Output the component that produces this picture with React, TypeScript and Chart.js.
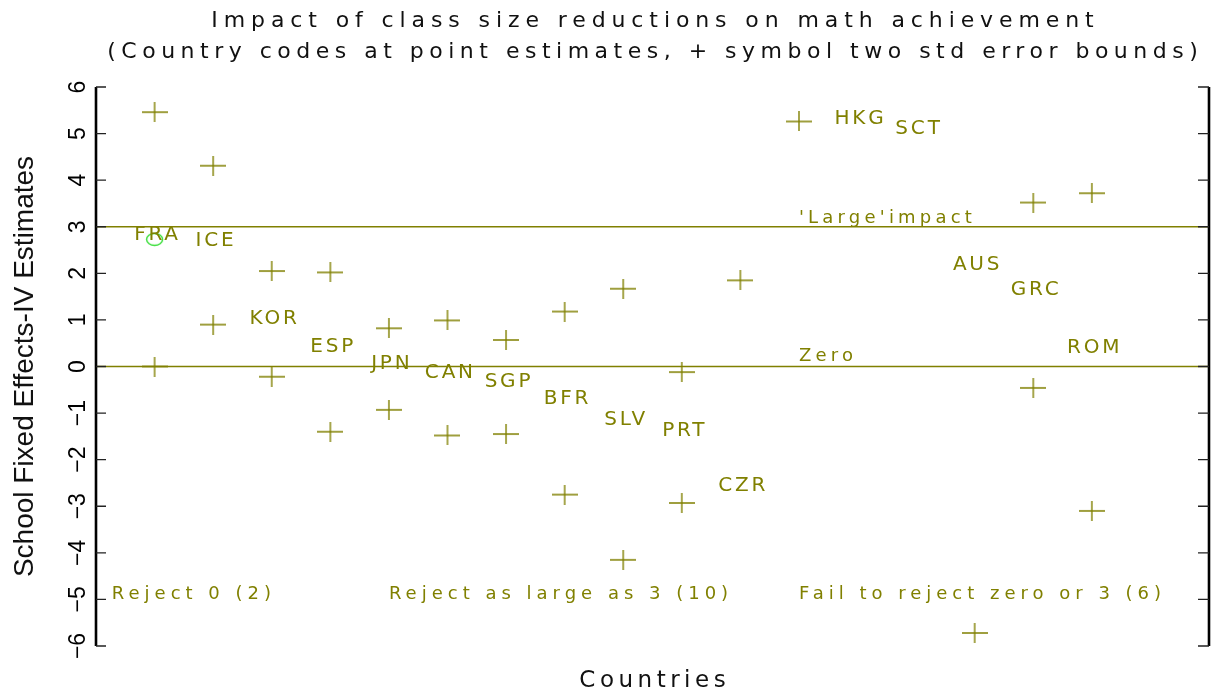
import React, { useEffect, useRef } from "react";
import { Chart, registerables } from "chart.js";

Chart.register(...registerables);

// ---------- data ----------
const countryCodes = ["FRA", "ICE", "KOR", "ESP", "JPN", "CAN", "SGP", "BFR", "SLV", "PRT", "CZR", "HKG", "SCT", "AUS", "GRC", "ROM"];
const countryX = [1, 2, 3, 4, 5, 6, 7, 8, 9, 10, 11, 13, 14, 15, 16, 17];
const pointEstimates = [2.72, 2.58, 0.91, 0.32, -0.06, -0.25, -0.44, -0.8, -1.25, -1.5, -2.68, 5.21, 4.99, 2.08, 1.53, 0.3];

const boundX = [1, 2, 3, 4, 5, 6, 7, 8, 9, 10, 11, 12, 15, 16, 17];
const upperBounds = [5.46, 4.31, 2.05, 2.02, 0.82, 0.99, 0.57, 1.18, 1.67, -0.12, 1.85, 5.26, null, 3.52, 3.72];
const lowerBounds = [0.0, 0.9, -0.22, -1.4, -0.93, -1.48, -1.45, -2.75, -4.15, -2.93, null, null, -5.72, -0.46, -3.1];

const highlightX = [1];
const highlightY = [2.73];

const refLineValues = [3, 0];
const refLineLabels = ["'Large'impact", "Zero"];
const refLabelX = [12, 12];
const refLabelY = [3.09, 0.11];

const groupNotes = ["Reject 0 (2)", "Reject as large as 3 (10)", "Fail to reject zero or 3 (6)"];
const groupNoteX = [0.27, 5.0, 12.0];
const groupNoteY = [-5.0, -5.0, -5.0];

const yTickValues = [-6, -5, -4, -3, -2, -1, 0, 1, 2, 3, 4, 5, 6];
const xMin = 0;
const xMax = 19;
const yMin = -6;
const yMax = 6;

const titleLines = [
  "Impact of class size reductions on math achievement",
  "(Country codes at point estimates, + symbol two std error bounds)",
];
const yTitle = "School Fixed Effects-IV Estimates";
const xTitle = "Countries";

// ---------- styles ----------
const OLIVE = "#808000";
const GREEN = "#33dd33";
const SPACED_FONT = "'DejaVu Sans'";
const PLAIN_FONT = "'Liberation Sans'";

function makeCross(): HTMLCanvasElement {
  const c = document.createElement("canvas");
  c.width = 26;
  c.height = 20;
  const g = c.getContext("2d")!;
  g.strokeStyle = OLIVE;
  g.lineWidth = 1.4;
  g.beginPath();
  g.moveTo(0, 10);
  g.lineTo(26, 10);
  g.moveTo(13, 0);
  g.lineTo(13, 20);
  g.stroke();
  return c;
}

function makeEllipse(): HTMLCanvasElement {
  const c = document.createElement("canvas");
  c.width = 19;
  c.height = 15;
  const g = c.getContext("2d")!;
  g.strokeStyle = GREEN;
  g.lineWidth = 1.4;
  g.beginPath();
  g.ellipse(9.5, 7.5, 8, 6, 0, 0, Math.PI * 2);
  g.stroke();
  return c;
}

function spacedText(
  ctx: CanvasRenderingContext2D,
  text: string,
  x: number,
  y: number,
  font: string,
  spacing: number,
  align: CanvasTextAlign,
  color: string
) {
  ctx.save();
  ctx.font = font;
  (ctx as any).letterSpacing = spacing + "px";
  ctx.fillStyle = color;
  ctx.textBaseline = "alphabetic";
  let dx = 0;
  if (align === "center") dx = spacing / 2;
  ctx.textAlign = align;
  ctx.fillText(text, x + dx, y);
  ctx.restore();
}

const decorPlugin = {
  id: "decor",
  afterDatasetsDraw(chart: any) {
    const ctx: CanvasRenderingContext2D = chart.ctx;
    const xs = chart.scales.x;
    const ys = chart.scales.y;
    const area = chart.chartArea;

    // country codes at point estimates
    countryCodes.forEach((code, i) => {
      const px = xs.getPixelForValue(countryX[i]);
      const py = ys.getPixelForValue(pointEstimates[i]);
      spacedText(ctx, code, px + 1.5, py, `20px ${SPACED_FONT}`, 2.8, "center", OLIVE);
    });

    // reference line labels
    refLineLabels.forEach((t, i) => {
      spacedText(ctx, t, xs.getPixelForValue(refLabelX[i]), ys.getPixelForValue(refLabelY[i]), `18px ${SPACED_FONT}`, 4.2, "left", OLIVE);
    });

    // group notes
    groupNotes.forEach((t, i) => {
      spacedText(ctx, t, xs.getPixelForValue(groupNoteX[i]), ys.getPixelForValue(groupNoteY[i]), `18px ${SPACED_FONT}`, 5.0, "left", OLIVE);
    });

    // axes
    ctx.save();
    ctx.strokeStyle = "#000";
    ctx.lineWidth = 2.6;
    ctx.beginPath();
    ctx.moveTo(area.left, area.top);
    ctx.lineTo(area.left, area.bottom);
    ctx.moveTo(area.right, area.top);
    ctx.lineTo(area.right, area.bottom);
    ctx.stroke();
    ctx.lineWidth = 1.3;
    ctx.strokeStyle = "#222";
    ctx.beginPath();
    yTickValues.forEach((v) => {
      const py = ys.getPixelForValue(v);
      ctx.moveTo(area.left, py);
      ctx.lineTo(area.left + 10, py);
      ctx.moveTo(area.right, py);
      ctx.lineTo(area.right - 11, py);
    });
    ctx.stroke();

    // tick labels (rotated)
    ctx.fillStyle = "#000";
    ctx.font = `23px ${PLAIN_FONT}`;
    ctx.textAlign = "center";
    ctx.textBaseline = "alphabetic";
    yTickValues.forEach((v) => {
      const py = ys.getPixelForValue(v);
      const label = v < 0 ? "\u2212" + Math.abs(v) : String(v);
      ctx.save();
      ctx.translate(area.left - 11, py);
      ctx.rotate(-Math.PI / 2);
      ctx.fillText(label, 0, 0);
      ctx.restore();
    });

    // y title
    ctx.save();
    ctx.font = `28px ${PLAIN_FONT}`;
    ctx.fillStyle = "#111";
    ctx.translate(33, (area.top + area.bottom) / 2);
    ctx.rotate(-Math.PI / 2);
    ctx.textAlign = "center";
    ctx.fillText(yTitle, 0, 0);
    ctx.restore();
    ctx.restore();

    // titles
    const cx = (area.left + area.right) / 2;
    spacedText(ctx, titleLines[0], cx, 27, `22px ${SPACED_FONT}`, 5.9, "center", "#111");
    spacedText(ctx, titleLines[1], cx, 58, `22px ${SPACED_FONT}`, 5.5, "center", "#111");
    spacedText(ctx, xTitle, cx, 687, `23px ${SPACED_FONT}`, 4.5, "center", "#111");
  },
};

export default function App() {
  const ref = useRef<HTMLCanvasElement | null>(null);

  useEffect(() => {
    if (!ref.current) return;
    const cross = makeCross();
    const ellipse = makeEllipse();

    const upperPts = boundX
      .map((x, i) => ({ x, y: upperBounds[i] }))
      .filter((p) => p.y !== null);
    const lowerPts = boundX
      .map((x, i) => ({ x, y: lowerBounds[i] }))
      .filter((p) => p.y !== null);
    const estPts = countryX.map((x, i) => ({ x, y: pointEstimates[i] }));
    const hiPts = highlightX.map((x, i) => ({ x, y: highlightY[i] }));

    const refSets = refLineValues.map((v) => ({
      type: "line" as const,
      data: [
        { x: xMin, y: v },
        { x: xMax, y: v },
      ],
      borderColor: OLIVE,
      borderWidth: 1.5,
      pointRadius: 0,
      showLine: true,
      fill: false,
    }));

    const chart = new Chart(ref.current, {
      type: "scatter",
      data: {
        datasets: [
          ...refSets,
          { data: upperPts, pointStyle: cross, pointRadius: 10, borderWidth: 0 },
          { data: lowerPts, pointStyle: cross, pointRadius: 10, borderWidth: 0 },
          { data: estPts, pointRadius: 0 },
          { data: hiPts, pointStyle: ellipse, pointRadius: 8, borderWidth: 0 },
        ] as any,
      },
      options: {
        animation: false,
        responsive: false,
        clip: false as any,
        layout: { padding: { left: 96, right: 16, top: 87, bottom: 46 } },
        plugins: {
          legend: { display: false },
          tooltip: { enabled: false },
          title: { display: false },
        },
        scales: {
          x: { type: "linear", min: xMin, max: xMax, display: false },
          y: { type: "linear", min: yMin, max: yMax, display: false },
        },
      },
      plugins: [decorPlugin],
    });
    return () => chart.destroy();
  }, []);

  return (
    <div style={{ position: "fixed", left: 0, top: 0, width: 1225, height: 692, background: "#fff" }}>
      <canvas ref={ref} width={1225} height={692} />
    </div>
  );
}
